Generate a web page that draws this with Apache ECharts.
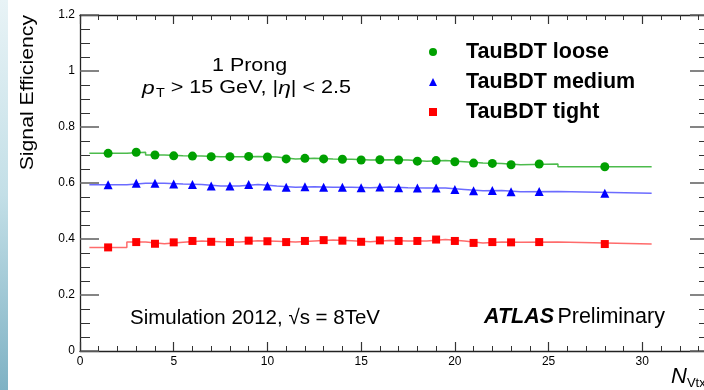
<!DOCTYPE html>
<html>
<head>
<meta charset="utf-8">
<script src="https://cdn.jsdelivr.net/npm/echarts@6/dist/echarts.min.js"></script>
<style>
  body { margin: 0; background: #fff; }
  #stripe { position: absolute; left: 0; top: 0; width: 8px; height: 390px;
    background: linear-gradient(#e8f3f6, #c3dfe7 50%, #7fb2c4); z-index: 2; }
  #chart { width: 704px; height: 390px; }
</style>
</head>
<body>
<div id="stripe"></div>
<div id="chart"></div>
<script>
// bin edges (N_Vtx) and bin centres
var binEdges = [0.5, 2.5, 3.5, 4.5, 5.5, 6.5, 7.5, 8.5, 9.5, 10.5, 11.5, 12.5, 13.5, 14.5, 15.5,
  16.5, 17.5, 18.5, 19.5, 20.5, 21.5, 22.5, 23.5, 25.5, 30.5];
var binCenters = [1.5, 3, 4, 5, 6, 7, 8, 9, 10, 11, 12, 13, 14, 15, 16, 17, 18, 19, 20, 21, 22, 23, 24.5, 28];

// signal efficiency per working point
var loose = [0.706, 0.710, 0.700, 0.697, 0.696, 0.694, 0.694, 0.695, 0.693, 0.686, 0.688, 0.686,
  0.685, 0.682, 0.683, 0.682, 0.678, 0.680, 0.676, 0.671, 0.670, 0.665, 0.668, 0.658];
var medium = [0.594, 0.599, 0.599, 0.596, 0.595, 0.589, 0.589, 0.595, 0.589, 0.585, 0.587, 0.585,
  0.585, 0.583, 0.586, 0.583, 0.582, 0.582, 0.577, 0.572, 0.573, 0.569, 0.570, 0.563];
var tight = [0.370, 0.389, 0.383, 0.388, 0.393, 0.390, 0.389, 0.394, 0.392, 0.389, 0.393, 0.396,
  0.394, 0.390, 0.395, 0.393, 0.393, 0.398, 0.393, 0.386, 0.389, 0.388, 0.389, 0.382];

var names = ['TauBDT loose', 'TauBDT medium', 'TauBDT tight'];
var FONT = '"Liberation Sans", Arial, Helvetica, sans-serif';

function stepData(vals) {
  var out = [];
  for (var i = 0; i < vals.length; i++) {
    out.push([binEdges[i], vals[i]]);
    out.push([binEdges[i + 1], vals[i]]);
  }
  return out;
}
function points(vals) {
  return vals.map(function (v, i) { return [binCenters[i], v]; });
}

var myChart = echarts.init(document.getElementById('chart'));

var xCommon = {
  type: 'value', min: 0, max: 33.56, interval: 5,
  axisLine: { onZero: false, lineStyle: { color: '#222', width: 1.3 } },
  axisTick: { inside: true, length: 9, lineStyle: { color: '#333', width: 1.2 } },
  minorTick: { show: true, splitNumber: 5, length: 5, lineStyle: { color: '#333', width: 1 } },
  splitLine: { show: false }
};
var yCommon = {
  type: 'value', min: 0, max: 1.2, interval: 0.2,
  axisLine: { onZero: false, lineStyle: { color: '#222', width: 1.3 } },
  axisTick: { inside: true, length: 19, lineStyle: { color: '#666', width: 1.6 } },
  minorTick: { show: true, splitNumber: 4, length: 10, lineStyle: { color: '#333', width: 1 } },
  splitLine: { show: false }
};

var option = {
  animation: false,
  textStyle: { fontFamily: FONT },
  grid: { left: 80, top: 15, width: 629, height: 336, containLabel: false, outerBoundsMode: 'none' },
  legend: {
    orient: 'vertical', left: 424, top: 36, itemGap: 8,
    itemWidth: 8, itemHeight: 8,
    data: [
      { name: names[0], icon: 'circle', itemStyle: { color: '#00a000' } },
      { name: names[1], icon: 'triangle', itemStyle: { color: '#0000ff' } },
      { name: names[2], icon: 'rect', itemStyle: { color: '#ff0000' } }
    ],
    textStyle: { fontFamily: FONT, fontSize: 21.5, lineHeight: 20.5, fontWeight: 'bold', color: '#000',
      padding: [0, 0, 0, 24] }
  },
  xAxis: [
    Object.assign({}, xCommon, {
      position: 'bottom',
      axisLabel: { color: '#000', fontSize: 12, margin: 5, showMaxLabel: false }
    }),
    Object.assign({}, xCommon, { position: 'top', axisLabel: { show: false } })
  ],
  yAxis: [
    Object.assign({}, yCommon, {
      position: 'left',
      axisLabel: { color: '#000', fontSize: 12, margin: 5 }
    }),
    Object.assign({}, yCommon, { position: 'right', axisLabel: { show: false } })
  ],
  series: [
    { name: 'loose step', type: 'line', data: stepData(loose), symbol: 'none',
      lineStyle: { color: '#4cbb4c', width: 1.5 }, z: 1 },
    { name: 'medium step', type: 'line', data: stepData(medium), symbol: 'none',
      lineStyle: { color: '#6b6bff', width: 1.5 }, z: 1 },
    { name: 'tight step', type: 'line', data: stepData(tight), symbol: 'none',
      lineStyle: { color: '#ff6b6b', width: 1.5 }, z: 1 },
    { name: names[0], type: 'scatter', data: points(loose), symbol: 'circle', symbolSize: 9,
      itemStyle: { color: '#00a000', opacity: 1 }, z: 3 },
    { name: names[1], type: 'scatter', data: points(medium), symbol: 'triangle', symbolSize: 9,
      itemStyle: { color: '#0000ff', opacity: 1 }, z: 3 },
    { name: names[2], type: 'scatter', data: points(tight), symbol: 'rect', symbolSize: 8,
      itemStyle: { color: '#ff0000', opacity: 1 }, z: 3 }
  ],
  graphic: [
    { type: 'text', left: 19, top: 15, rotation: Math.PI / 2, scaleX: 1.2, z: 10,
      style: { text: 'Signal Efficiency', font: '17.7px ' + FONT, fill: '#000' } },
    { type: 'text', left: 212, top: 56, scaleX: 1.16, z: 10,
      style: { text: '1 Prong', font: '18.5px ' + FONT, fill: '#000' } },
    { type: 'text', left: 142, top: 79, scaleX: 1.2, z: 10,
      style: {
        text: '{i|p}{sub|T}{n| > 15 GeV, |}{i|η}{n|| < 2.5}',
        fill: '#000',
        rich: {
          i: { fontFamily: FONT, fontSize: 19, fontStyle: 'italic', fill: '#000' },
          n: { fontFamily: FONT, fontSize: 18, fill: '#000' },
          sub: { fontFamily: FONT, fontSize: 12, fill: '#000', padding: [10, 0, 0, 1] }
        }
      } },
    { type: 'text', left: 130, top: 308, z: 10,
      style: { text: 'Simulation 2012, √s = 8TeV', font: '20.5px ' + FONT, fill: '#000' } },
    { type: 'text', left: 484, top: 306, z: 10,
      style: {
        text: '{b|ATLAS} {n|Preliminary}',
        rich: {
          b: { fontFamily: FONT, fontSize: 21.5, fontWeight: 'bold', fontStyle: 'italic', fill: '#000' },
          n: { fontFamily: FONT, fontSize: 21.5, fill: '#000' }
        }
      } },
    { type: 'text', left: 671, top: 366, z: 10,
      style: {
        text: '{n|N}{sub|Vtx}',
        rich: {
          n: { fontFamily: FONT, fontSize: 22, fontStyle: 'italic', fill: '#000' },
          sub: { fontFamily: FONT, fontSize: 13, fill: '#000', padding: [12, 0, 0, 0] }
        }
      } }
  ]
};
myChart.setOption(option);
</script>
</body>
</html>
